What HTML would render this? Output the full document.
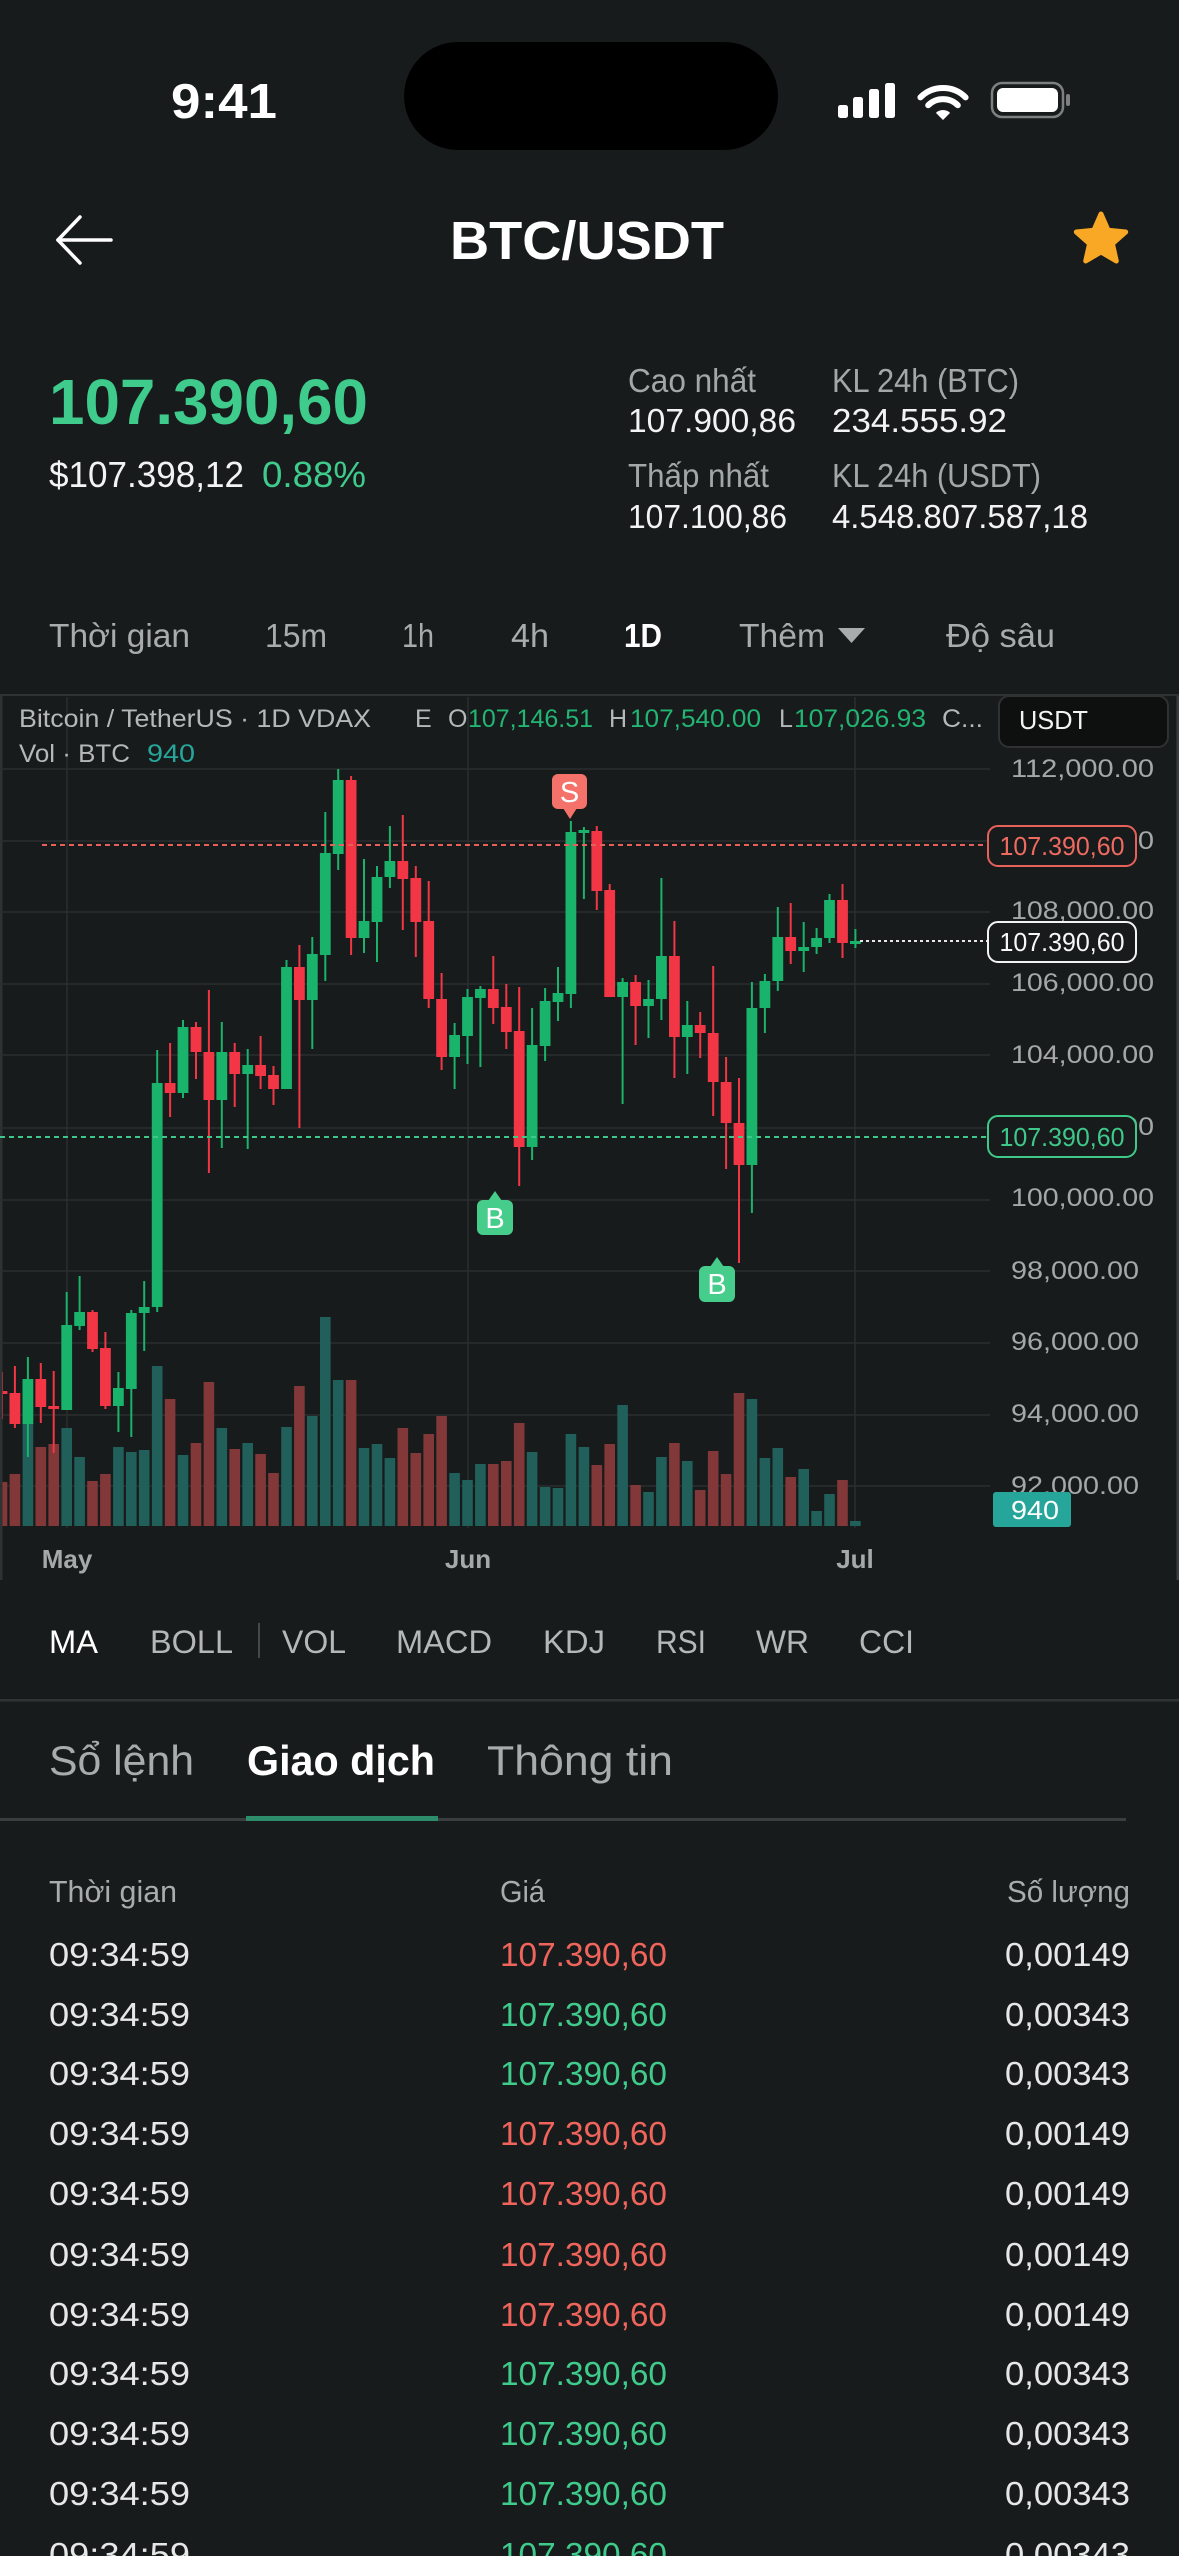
<!DOCTYPE html>
<html><head><meta charset="utf-8">
<style>
html,body{margin:0;padding:0;background:#181b1b;width:1179px;height:2556px;overflow:hidden}
svg{display:block}
text{font-family:"Liberation Sans",Arial,sans-serif}
</style></head>
<body>
<svg width="1179" height="2556" viewBox="0 0 1179 2556" xmlns="http://www.w3.org/2000/svg">
<defs><clipPath id="cc"><rect x="2.5" y="696" width="1174" height="884"/></clipPath></defs>
<rect x="0" y="0" width="1179" height="2556" fill="#181b1b"/>

<!-- STATUS BAR -->
<text x="171" y="118" font-size="49" font-weight="bold" fill="#fff" textLength="106" lengthAdjust="spacingAndGlyphs">9:41</text>
<rect x="404" y="42" width="374" height="108" rx="54" fill="#000"/>
<g fill="#fff">
<rect x="838" y="105" width="10" height="13" rx="2.5"/>
<rect x="853" y="97" width="10" height="21" rx="2.5"/>
<rect x="869" y="89" width="10" height="29" rx="2.5"/>
<rect x="885" y="83" width="10" height="35" rx="2.5"/>
</g>
<g fill="none" stroke="#fff" stroke-width="6" stroke-linecap="round">
<path d="M920.4,97.4 A32,32 0 0 1 965.6,97.4"/>
<path d="M928.2,105.2 A21,21 0 0 1 957.8,105.2"/>
</g>
<path d="M943,120 L935.9,112.9 A10,10 0 0 1 950.1,112.9 Z" fill="#fff"/>
<rect x="992" y="83" width="71" height="34" rx="10" fill="none" stroke="#7d8080" stroke-width="2.5"/>
<rect x="997" y="88" width="61" height="24" rx="6" fill="#fff"/>
<rect x="1066" y="94" width="4" height="12" rx="2" fill="#7d8080"/>

<!-- HEADER -->
<g stroke="#fff" stroke-width="3.5" stroke-linecap="round" fill="none">
<line x1="58" y1="240" x2="111" y2="240"/>
<line x1="58" y1="240" x2="80" y2="217"/>
<line x1="58" y1="240" x2="80" y2="263"/>
</g>
<text x="587" y="259" font-size="54" font-weight="bold" fill="#fff" text-anchor="middle" textLength="274" lengthAdjust="spacingAndGlyphs">BTC/USDT</text>
<polygon points="1101,214 1108.1,230.3 1125.7,232 1112.4,243.7 1116.3,261 1101,252 1085.7,261 1089.6,243.7 1076.3,232 1093.9,230.3" fill="#f9a825" stroke="#f9a825" stroke-width="5" stroke-linejoin="round"/>

<!-- PRICE BLOCK -->
<text x="49" y="424" font-size="64" font-weight="bold" fill="#3ecb8b" textLength="319" lengthAdjust="spacingAndGlyphs">107.390,60</text>
<text x="49" y="487" font-size="36" fill="#f2f3f3" textLength="195" lengthAdjust="spacingAndGlyphs">$107.398,12</text>
<text x="262" y="487" font-size="36" fill="#3ecb8b" textLength="104" lengthAdjust="spacingAndGlyphs">0.88%</text>

<g font-size="33">
<text x="628" y="392" fill="#a4a7a7" textLength="128" lengthAdjust="spacingAndGlyphs">Cao nhất</text>
<text x="628" y="432" fill="#f2f3f3" textLength="168" lengthAdjust="spacingAndGlyphs">107.900,86</text>
<text x="628" y="487" fill="#a4a7a7" textLength="141" lengthAdjust="spacingAndGlyphs">Thấp nhất</text>
<text x="628" y="528" fill="#f2f3f3" textLength="159" lengthAdjust="spacingAndGlyphs">107.100,86</text>
<text x="832" y="392" fill="#a4a7a7" textLength="187" lengthAdjust="spacingAndGlyphs">KL 24h (BTC)</text>
<text x="832" y="432" fill="#f2f3f3" textLength="175" lengthAdjust="spacingAndGlyphs">234.555.92</text>
<text x="832" y="487" fill="#a4a7a7" textLength="209" lengthAdjust="spacingAndGlyphs">KL 24h (USDT)</text>
<text x="832" y="528" fill="#f2f3f3" textLength="256" lengthAdjust="spacingAndGlyphs">4.548.807.587,18</text>
</g>

<!-- TIMEFRAME ROW -->
<g font-size="33" fill="#a9acac">
<text x="49" y="647" textLength="141" lengthAdjust="spacingAndGlyphs">Thời gian</text>
<text x="265" y="647" textLength="62" lengthAdjust="spacingAndGlyphs">15m</text>
<text x="402" y="647" textLength="32" lengthAdjust="spacingAndGlyphs">1h</text>
<text x="511" y="647" textLength="38" lengthAdjust="spacingAndGlyphs">4h</text>
<text x="624" y="647" fill="#fff" font-weight="bold" textLength="38" lengthAdjust="spacingAndGlyphs">1D</text>
<text x="739" y="647" textLength="86" lengthAdjust="spacingAndGlyphs">Thêm</text>
<polygon points="838,628 865,628 851.5,643"/>
<text x="946" y="647" textLength="109" lengthAdjust="spacingAndGlyphs">Độ sâu</text>
</g>

<!-- CHART FRAME -->
<rect x="0" y="694" width="1179" height="2" fill="#2f3333"/>
<rect x="0" y="695" width="2.5" height="885" fill="#2e3232"/>
<rect x="1176.5" y="696" width="2.5" height="884" fill="#3a3e3e"/>

<!-- GRID -->
<g stroke="#2a2e2e" stroke-width="1.5">
<line x1="0" y1="769" x2="990" y2="769"/>
<line x1="0" y1="841" x2="990" y2="841"/>
<line x1="0" y1="912" x2="990" y2="912"/>
<line x1="0" y1="984" x2="990" y2="984"/>
<line x1="0" y1="1055" x2="990" y2="1055"/>
<line x1="0" y1="1128" x2="990" y2="1128"/>
<line x1="0" y1="1200" x2="990" y2="1200"/>
<line x1="0" y1="1271" x2="990" y2="1271"/>
<line x1="0" y1="1343" x2="990" y2="1343"/>
<line x1="0" y1="1415" x2="990" y2="1415"/>
<line x1="0" y1="1486" x2="990" y2="1486"/>
<line x1="67" y1="697" x2="67" y2="1528"/>
<line x1="468" y1="697" x2="468" y2="1528"/>
<line x1="855" y1="697" x2="855" y2="1528"/>
</g>

<g clip-path="url(#cc)">
<!-- VOLUME teal -->
<g fill="#215f5a">
<rect x="22.6" y="1423" width="10.6" height="103"/>
<rect x="61.4" y="1428" width="10.6" height="98"/>
<rect x="74.3" y="1457" width="10.6" height="69"/>
<rect x="113.1" y="1447" width="10.6" height="79"/>
<rect x="126" y="1452" width="10.6" height="74"/>
<rect x="138.9" y="1450" width="10.6" height="76"/>
<rect x="151.9" y="1366" width="10.6" height="160"/>
<rect x="177.7" y="1455" width="10.6" height="71"/>
<rect x="216.5" y="1428" width="10.6" height="98"/>
<rect x="242.4" y="1443" width="10.6" height="83"/>
<rect x="281.2" y="1427" width="10.6" height="99"/>
<rect x="307" y="1416" width="10.6" height="110"/>
<rect x="320" y="1317" width="10.6" height="209"/>
<rect x="332.9" y="1380" width="10.6" height="146"/>
<rect x="358.7" y="1448" width="10.6" height="78"/>
<rect x="371.7" y="1444" width="10.6" height="82"/>
<rect x="384.6" y="1458" width="10.6" height="68"/>
<rect x="449.3" y="1473" width="10.6" height="53"/>
<rect x="462.2" y="1480" width="10.6" height="46"/>
<rect x="475.1" y="1464" width="10.6" height="62"/>
<rect x="526.8" y="1452" width="10.6" height="74"/>
<rect x="539.8" y="1487" width="10.6" height="39"/>
<rect x="552.7" y="1488" width="10.6" height="38"/>
<rect x="565.6" y="1434" width="10.6" height="92"/>
<rect x="578.6" y="1447" width="10.6" height="79"/>
<rect x="617.3" y="1405" width="10.6" height="121"/>
<rect x="643.2" y="1492" width="10.6" height="34"/>
<rect x="656.1" y="1457" width="10.6" height="69"/>
<rect x="682" y="1461" width="10.6" height="65"/>
<rect x="746.6" y="1399" width="10.6" height="127"/>
<rect x="759.6" y="1458" width="10.6" height="68"/>
<rect x="772.5" y="1448" width="10.6" height="78"/>
<rect x="798.4" y="1469" width="10.6" height="57"/>
<rect x="811.3" y="1511" width="10.6" height="15"/>
<rect x="824.2" y="1494" width="10.6" height="32"/>
<rect x="850.1" y="1521" width="10.6" height="5"/>
</g>
<!-- VOLUME red -->
<g fill="#823838">
<rect x="-3.3" y="1482" width="10.6" height="44"/>
<rect x="9.6" y="1474" width="10.6" height="52"/>
<rect x="35.5" y="1447" width="10.6" height="79"/>
<rect x="48.4" y="1444" width="10.6" height="82"/>
<rect x="87.2" y="1481" width="10.6" height="45"/>
<rect x="100.1" y="1474" width="10.6" height="52"/>
<rect x="164.8" y="1399" width="10.6" height="127"/>
<rect x="190.7" y="1443" width="10.6" height="83"/>
<rect x="203.6" y="1382" width="10.6" height="144"/>
<rect x="229.4" y="1449" width="10.6" height="77"/>
<rect x="255.3" y="1454" width="10.6" height="72"/>
<rect x="268.2" y="1473" width="10.6" height="53"/>
<rect x="294.1" y="1386" width="10.6" height="140"/>
<rect x="345.8" y="1380" width="10.6" height="146"/>
<rect x="397.5" y="1428" width="10.6" height="98"/>
<rect x="410.5" y="1453" width="10.6" height="73"/>
<rect x="423.4" y="1434" width="10.6" height="92"/>
<rect x="436.3" y="1416" width="10.6" height="110"/>
<rect x="488" y="1464" width="10.6" height="62"/>
<rect x="501" y="1461" width="10.6" height="65"/>
<rect x="513.9" y="1423" width="10.6" height="103"/>
<rect x="591.5" y="1465" width="10.6" height="61"/>
<rect x="604.4" y="1444" width="10.6" height="82"/>
<rect x="630.3" y="1485" width="10.6" height="41"/>
<rect x="669.1" y="1443" width="10.6" height="83"/>
<rect x="694.9" y="1490" width="10.6" height="36"/>
<rect x="707.9" y="1451" width="10.6" height="75"/>
<rect x="720.8" y="1474" width="10.6" height="52"/>
<rect x="733.7" y="1393" width="10.6" height="133"/>
<rect x="785.4" y="1477" width="10.6" height="49"/>
<rect x="837.2" y="1480" width="10.6" height="46"/>
</g>

<!-- CANDLES green -->
<g fill="#19b36b">
<rect x="26.9" y="1357" width="2" height="100"/><rect x="22.5" y="1379" width="10.8" height="45"/>
<rect x="65.7" y="1292" width="2" height="118"/><rect x="61.3" y="1325" width="10.8" height="85"/>
<rect x="78.6" y="1276" width="2" height="54"/><rect x="74.2" y="1312" width="10.8" height="14"/>
<rect x="117.4" y="1372" width="2" height="60"/><rect x="113" y="1388" width="10.8" height="18"/>
<rect x="130.3" y="1310" width="2" height="127"/><rect x="125.9" y="1313" width="10.8" height="76"/>
<rect x="143.2" y="1281" width="2" height="70"/><rect x="138.8" y="1307" width="10.8" height="6"/>
<rect x="156.2" y="1050" width="2" height="262"/><rect x="151.8" y="1083" width="10.8" height="224"/>
<rect x="182" y="1020" width="2" height="78"/><rect x="177.6" y="1027" width="10.8" height="66"/>
<rect x="220.8" y="1022" width="2" height="126"/><rect x="216.4" y="1052" width="10.8" height="48"/>
<rect x="246.7" y="1049" width="2" height="100"/><rect x="242.3" y="1065" width="10.8" height="9"/>
<rect x="285.5" y="960" width="2" height="129"/><rect x="281.1" y="967" width="10.8" height="122"/>
<rect x="311.3" y="937" width="2" height="112"/><rect x="306.9" y="954" width="10.8" height="46"/>
<rect x="324.3" y="812" width="2" height="169"/><rect x="319.9" y="853" width="10.8" height="102"/>
<rect x="337.2" y="769" width="2" height="101"/><rect x="332.8" y="780" width="10.8" height="74"/>
<rect x="363" y="859" width="2" height="94"/><rect x="358.6" y="921" width="10.8" height="17"/>
<rect x="376" y="866" width="2" height="96"/><rect x="371.6" y="877" width="10.8" height="45"/>
<rect x="388.9" y="826" width="2" height="62"/><rect x="384.5" y="861" width="10.8" height="16"/>
<rect x="453.6" y="1023" width="2" height="66"/><rect x="449.2" y="1035" width="10.8" height="22"/>
<rect x="466.5" y="989" width="2" height="75"/><rect x="462.1" y="997" width="10.8" height="39"/>
<rect x="479.4" y="986" width="2" height="81"/><rect x="475" y="989" width="10.8" height="9"/>
<rect x="531.1" y="1008" width="2" height="152"/><rect x="526.7" y="1045" width="10.8" height="102"/>
<rect x="544.1" y="988" width="2" height="73"/><rect x="539.7" y="1001" width="10.8" height="45"/>
<rect x="557" y="967" width="2" height="54"/><rect x="552.6" y="993" width="10.8" height="9"/>
<rect x="569.9" y="821" width="2" height="187"/><rect x="565.5" y="832" width="10.8" height="162"/>
<rect x="582.9" y="827" width="2" height="72"/><rect x="578.5" y="830" width="10.8" height="3"/>
<rect x="621.6" y="978" width="2" height="126"/><rect x="617.2" y="982" width="10.8" height="15"/>
<rect x="647.5" y="980" width="2" height="58"/><rect x="643.1" y="999" width="10.8" height="7"/>
<rect x="660.4" y="878" width="2" height="142"/><rect x="656" y="956" width="10.8" height="43"/>
<rect x="686.3" y="1001" width="2" height="73"/><rect x="681.9" y="1025" width="10.8" height="12"/>
<rect x="750.9" y="982" width="2" height="231"/><rect x="746.5" y="1008" width="10.8" height="157"/>
<rect x="763.9" y="974" width="2" height="59"/><rect x="759.5" y="981" width="10.8" height="27"/>
<rect x="776.8" y="907" width="2" height="84"/><rect x="772.4" y="937" width="10.8" height="44"/>
<rect x="802.7" y="922" width="2" height="50"/><rect x="798.3" y="947" width="10.8" height="4"/>
<rect x="815.6" y="928" width="2" height="26"/><rect x="811.2" y="938" width="10.8" height="9"/>
<rect x="828.5" y="894" width="2" height="49"/><rect x="824.1" y="900" width="10.8" height="38"/>
<rect x="854.4" y="929" width="2" height="19"/><rect x="850" y="941" width="10.8" height="3"/>
</g>
<!-- CANDLES red -->
<g fill="#f23645">
<rect x="1" y="1372" width="2" height="47"/><rect x="-3.4" y="1391" width="10.8" height="3"/>
<rect x="13.9" y="1366" width="2" height="62"/><rect x="9.5" y="1393" width="10.8" height="31"/>
<rect x="39.8" y="1363" width="2" height="60"/><rect x="35.4" y="1379" width="10.8" height="28"/>
<rect x="52.7" y="1371" width="2" height="82"/><rect x="48.3" y="1406" width="10.8" height="3"/>
<rect x="91.5" y="1310" width="2" height="42"/><rect x="87.1" y="1312" width="10.8" height="37"/>
<rect x="104.4" y="1332" width="2" height="77"/><rect x="100" y="1348" width="10.8" height="58"/>
<rect x="169.1" y="1043" width="2" height="74"/><rect x="164.7" y="1083" width="10.8" height="10"/>
<rect x="195" y="1022" width="2" height="57"/><rect x="190.6" y="1027" width="10.8" height="25"/>
<rect x="207.9" y="990" width="2" height="183"/><rect x="203.5" y="1052" width="10.8" height="48"/>
<rect x="233.7" y="1043" width="2" height="64"/><rect x="229.3" y="1052" width="10.8" height="22"/>
<rect x="259.6" y="1036" width="2" height="53"/><rect x="255.2" y="1065" width="10.8" height="11"/>
<rect x="272.5" y="1066" width="2" height="39"/><rect x="268.1" y="1075" width="10.8" height="14"/>
<rect x="298.4" y="945" width="2" height="183"/><rect x="294" y="967" width="10.8" height="33"/>
<rect x="350.1" y="776" width="2" height="179"/><rect x="345.7" y="780" width="10.8" height="158"/>
<rect x="401.8" y="815" width="2" height="115"/><rect x="397.4" y="861" width="10.8" height="18"/>
<rect x="414.8" y="866" width="2" height="91"/><rect x="410.4" y="878" width="10.8" height="44"/>
<rect x="427.7" y="881" width="2" height="127"/><rect x="423.3" y="921" width="10.8" height="78"/>
<rect x="440.6" y="973" width="2" height="97"/><rect x="436.2" y="999" width="10.8" height="58"/>
<rect x="492.3" y="956" width="2" height="68"/><rect x="487.9" y="989" width="10.8" height="19"/>
<rect x="505.3" y="984" width="2" height="65"/><rect x="500.9" y="1007" width="10.8" height="25"/>
<rect x="518.2" y="987" width="2" height="199"/><rect x="513.8" y="1031" width="10.8" height="116"/>
<rect x="595.8" y="826" width="2" height="84"/><rect x="591.4" y="831" width="10.8" height="60"/>
<rect x="608.7" y="884" width="2" height="113"/><rect x="604.3" y="890" width="10.8" height="107"/>
<rect x="634.6" y="975" width="2" height="70"/><rect x="630.2" y="982" width="10.8" height="24"/>
<rect x="673.4" y="921" width="2" height="157"/><rect x="669" y="956" width="10.8" height="81"/>
<rect x="699.2" y="1012" width="2" height="46"/><rect x="694.8" y="1025" width="10.8" height="8"/>
<rect x="712.2" y="966" width="2" height="150"/><rect x="707.8" y="1033" width="10.8" height="49"/>
<rect x="725.1" y="1057" width="2" height="112"/><rect x="720.7" y="1082" width="10.8" height="41"/>
<rect x="738" y="1078" width="2" height="185"/><rect x="733.6" y="1123" width="10.8" height="42"/>
<rect x="789.7" y="903" width="2" height="61"/><rect x="785.3" y="937" width="10.8" height="14"/>
<rect x="841.5" y="884" width="2" height="74"/><rect x="837.1" y="900" width="10.8" height="43"/>
</g>
</g>

<!-- PRICE LINES -->
<line x1="42" y1="845" x2="988" y2="845" stroke="#e8605a" stroke-width="2" stroke-dasharray="5 4"/>
<line x1="860" y1="941" x2="988" y2="941" stroke="#e8e8e8" stroke-width="2" stroke-dasharray="3 3"/>
<line x1="0" y1="1137" x2="987" y2="1137" stroke="#3ec98a" stroke-width="2" stroke-dasharray="5 4"/>

<!-- MARKERS -->
<polygon points="563,808 577,808 570,819" fill="#f4726a"/>
<rect x="552" y="774" width="35" height="35" rx="6" fill="#f4726a"/>
<text x="569.5" y="802" font-size="29" fill="#fff" text-anchor="middle">S</text>
<polygon points="488,1201 502,1201 495,1191" fill="#46cc8b"/>
<rect x="477" y="1200" width="36" height="35" rx="6" fill="#46cc8b"/>
<text x="495" y="1228" font-size="29" fill="#fff" text-anchor="middle">B</text>
<polygon points="710,1267 724,1267 717,1257" fill="#46cc8b"/>
<rect x="699" y="1266" width="36" height="36" rx="6" fill="#46cc8b"/>
<text x="717" y="1294" font-size="29" fill="#fff" text-anchor="middle">B</text>

<!-- CHART HEADER TEXT -->
<g font-size="25" fill="#b5b8b8">
<text x="19" y="727" textLength="352" lengthAdjust="spacingAndGlyphs">Bitcoin / TetherUS · 1D VDAX</text>
<text x="415" y="727">E</text>
<text x="448" y="727">O</text>
<text x="468" y="727" fill="#22b573" textLength="125" lengthAdjust="spacingAndGlyphs">107,146.51</text>
<text x="609" y="727">H</text>
<text x="630" y="727" fill="#22b573" textLength="131" lengthAdjust="spacingAndGlyphs">107,540.00</text>
<text x="779" y="727">L</text>
<text x="794" y="727" fill="#22b573" textLength="132" lengthAdjust="spacingAndGlyphs">107,026.93</text>
<text x="942" y="727" textLength="41" lengthAdjust="spacingAndGlyphs">C...</text>
<text x="19" y="762" textLength="111" lengthAdjust="spacingAndGlyphs">Vol · BTC</text>
<text x="147" y="762" fill="#26a69a" textLength="48" lengthAdjust="spacingAndGlyphs">940</text>
</g>

<!-- AXIS LABELS -->
<g font-size="25" fill="#a5a8a8">
<text x="1011" y="777" textLength="143" lengthAdjust="spacingAndGlyphs">112,000.00</text>
<text x="1011" y="849" textLength="143" lengthAdjust="spacingAndGlyphs">110,000.00</text>
<text x="1011" y="919" textLength="143" lengthAdjust="spacingAndGlyphs">108,000.00</text>
<text x="1011" y="991" textLength="143" lengthAdjust="spacingAndGlyphs">106,000.00</text>
<text x="1011" y="1063" textLength="143" lengthAdjust="spacingAndGlyphs">104,000.00</text>
<text x="1011" y="1135" textLength="143" lengthAdjust="spacingAndGlyphs">102,000.00</text>
<text x="1011" y="1206" textLength="143" lengthAdjust="spacingAndGlyphs">100,000.00</text>
<text x="1011" y="1279" textLength="128" lengthAdjust="spacingAndGlyphs">98,000.00</text>
<text x="1011" y="1350" textLength="128" lengthAdjust="spacingAndGlyphs">96,000.00</text>
<text x="1011" y="1422" textLength="128" lengthAdjust="spacingAndGlyphs">94,000.00</text>
<text x="1011" y="1494" textLength="128" lengthAdjust="spacingAndGlyphs">92,000.00</text>
</g>

<!-- USDT box -->
<rect x="999" y="696" width="169" height="51" rx="10" fill="#0e1010" stroke="#2e3232" stroke-width="2"/>
<text x="1019" y="729" font-size="26" fill="#f2f3f3" textLength="69" lengthAdjust="spacingAndGlyphs">USDT</text>

<!-- Price label boxes -->
<rect x="988" y="826" width="148" height="40" rx="10" fill="#181b1b" stroke="#e8605a" stroke-width="2"/>
<text x="1062" y="855" font-size="26" fill="#ef6a60" text-anchor="middle" textLength="125" lengthAdjust="spacingAndGlyphs">107.390,60</text>
<rect x="988" y="922" width="148" height="40" rx="10" fill="#181b1b" stroke="#f2f3f3" stroke-width="2"/>
<text x="1062" y="951" font-size="26" fill="#f7f7f7" text-anchor="middle" textLength="125" lengthAdjust="spacingAndGlyphs">107.390,60</text>
<rect x="988" y="1116" width="148" height="41" rx="10" fill="#181b1b" stroke="#3ec98a" stroke-width="2"/>
<text x="1062" y="1146" font-size="26" fill="#3ec98a" text-anchor="middle" textLength="125" lengthAdjust="spacingAndGlyphs">107.390,60</text>

<!-- 940 box -->
<rect x="993" y="1492" width="78" height="35" rx="3" fill="#26a69a"/>
<text x="1011" y="1519" font-size="26" fill="#fff" textLength="48" lengthAdjust="spacingAndGlyphs">940</text>

<!-- X LABELS -->
<g font-size="26" font-weight="bold" fill="#a6a9a9" text-anchor="middle">
<text x="67" y="1568">May</text>
<text x="468" y="1568">Jun</text>
<text x="855" y="1568">Jul</text>
</g>

<!-- INDICATORS ROW -->
<g font-size="32" fill="#b5b8b8">
<text x="49" y="1653" fill="#fff" textLength="49" lengthAdjust="spacingAndGlyphs">MA</text>
<text x="150" y="1653" textLength="83" lengthAdjust="spacingAndGlyphs">BOLL</text>
<text x="282" y="1653" textLength="64" lengthAdjust="spacingAndGlyphs">VOL</text>
<text x="396" y="1653" textLength="96" lengthAdjust="spacingAndGlyphs">MACD</text>
<text x="543" y="1653" textLength="62" lengthAdjust="spacingAndGlyphs">KDJ</text>
<text x="656" y="1653" textLength="50" lengthAdjust="spacingAndGlyphs">RSI</text>
<text x="756" y="1653" textLength="53" lengthAdjust="spacingAndGlyphs">WR</text>
<text x="859" y="1653" textLength="55" lengthAdjust="spacingAndGlyphs">CCI</text>
</g>
<rect x="258" y="1623" width="2" height="35" fill="#454949"/>
<rect x="0" y="1699" width="1179" height="2.5" fill="#303434"/>

<!-- TABS -->
<text x="49" y="1775" font-size="42" fill="#a9acac" textLength="145" lengthAdjust="spacingAndGlyphs">Sổ lệnh</text>
<text x="247" y="1775" font-size="42" font-weight="bold" fill="#fff" textLength="188" lengthAdjust="spacingAndGlyphs">Giao dịch</text>
<text x="487" y="1775" font-size="42" fill="#a9acac" textLength="186" lengthAdjust="spacingAndGlyphs">Thông tin</text>
<rect x="0" y="1818" width="1126" height="3" fill="#3a3e3e"/>
<rect x="246" y="1816" width="192" height="5" fill="#2d8c69"/>

<!-- TABLE HEADER -->
<g font-size="31" fill="#a9acac">
<text x="49" y="1902" textLength="128" lengthAdjust="spacingAndGlyphs">Thời gian</text>
<text x="500" y="1902" textLength="45" lengthAdjust="spacingAndGlyphs">Giá</text>
<text x="1130" y="1902" text-anchor="end" textLength="123" lengthAdjust="spacingAndGlyphs">Số lượng</text>
</g>

<!-- TABLE ROWS -->
<g font-size="33">
<g fill="#e6e8e8">
<text x="49" y="1966" textLength="141" lengthAdjust="spacingAndGlyphs">09:34:59</text>
<text x="49" y="2026" textLength="141" lengthAdjust="spacingAndGlyphs">09:34:59</text>
<text x="49" y="2085" textLength="141" lengthAdjust="spacingAndGlyphs">09:34:59</text>
<text x="49" y="2145" textLength="141" lengthAdjust="spacingAndGlyphs">09:34:59</text>
<text x="49" y="2205" textLength="141" lengthAdjust="spacingAndGlyphs">09:34:59</text>
<text x="49" y="2266" textLength="141" lengthAdjust="spacingAndGlyphs">09:34:59</text>
<text x="49" y="2326" textLength="141" lengthAdjust="spacingAndGlyphs">09:34:59</text>
<text x="49" y="2385" textLength="141" lengthAdjust="spacingAndGlyphs">09:34:59</text>
<text x="49" y="2445" textLength="141" lengthAdjust="spacingAndGlyphs">09:34:59</text>
<text x="49" y="2505" textLength="141" lengthAdjust="spacingAndGlyphs">09:34:59</text>
<text x="49" y="2566" textLength="141" lengthAdjust="spacingAndGlyphs">09:34:59</text>
</g>
<g fill="#f0645c">
<text x="500" y="1966" textLength="167" lengthAdjust="spacingAndGlyphs">107.390,60</text>
<text x="500" y="2145" textLength="167" lengthAdjust="spacingAndGlyphs">107.390,60</text>
<text x="500" y="2205" textLength="167" lengthAdjust="spacingAndGlyphs">107.390,60</text>
<text x="500" y="2266" textLength="167" lengthAdjust="spacingAndGlyphs">107.390,60</text>
<text x="500" y="2326" textLength="167" lengthAdjust="spacingAndGlyphs">107.390,60</text>
</g>
<g fill="#3ecb8b">
<text x="500" y="2026" textLength="167" lengthAdjust="spacingAndGlyphs">107.390,60</text>
<text x="500" y="2085" textLength="167" lengthAdjust="spacingAndGlyphs">107.390,60</text>
<text x="500" y="2385" textLength="167" lengthAdjust="spacingAndGlyphs">107.390,60</text>
<text x="500" y="2445" textLength="167" lengthAdjust="spacingAndGlyphs">107.390,60</text>
<text x="500" y="2505" textLength="167" lengthAdjust="spacingAndGlyphs">107.390,60</text>
<text x="500" y="2566" textLength="167" lengthAdjust="spacingAndGlyphs">107.390,60</text>
</g>
<g fill="#e6e8e8" text-anchor="end">
<text x="1130" y="1966" textLength="125" lengthAdjust="spacingAndGlyphs">0,00149</text>
<text x="1130" y="2026" textLength="125" lengthAdjust="spacingAndGlyphs">0,00343</text>
<text x="1130" y="2085" textLength="125" lengthAdjust="spacingAndGlyphs">0,00343</text>
<text x="1130" y="2145" textLength="125" lengthAdjust="spacingAndGlyphs">0,00149</text>
<text x="1130" y="2205" textLength="125" lengthAdjust="spacingAndGlyphs">0,00149</text>
<text x="1130" y="2266" textLength="125" lengthAdjust="spacingAndGlyphs">0,00149</text>
<text x="1130" y="2326" textLength="125" lengthAdjust="spacingAndGlyphs">0,00149</text>
<text x="1130" y="2385" textLength="125" lengthAdjust="spacingAndGlyphs">0,00343</text>
<text x="1130" y="2445" textLength="125" lengthAdjust="spacingAndGlyphs">0,00343</text>
<text x="1130" y="2505" textLength="125" lengthAdjust="spacingAndGlyphs">0,00343</text>
<text x="1130" y="2566" textLength="125" lengthAdjust="spacingAndGlyphs">0,00343</text>
</g>
</g>
</svg>
</body></html>
